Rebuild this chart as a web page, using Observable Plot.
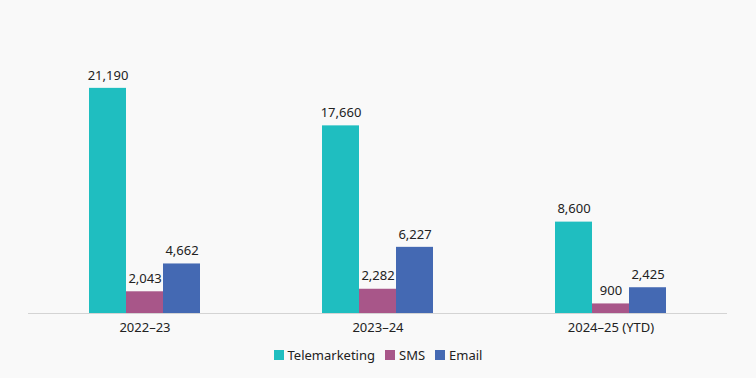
<!DOCTYPE html>
<html>
<head>
<meta charset="utf-8">
<script src="https://cdn.jsdelivr.net/npm/d3@7"></script>
<script src="https://cdn.jsdelivr.net/npm/@observablehq/plot@0.6"></script>
<style>
  html, body { margin: 0; padding: 0; background: #f9f9f9; }
  body { width: 756px; height: 378px; font-family: "Noto Sans", sans-serif; }
  #legend { display: flex; justify-content: center; gap: 10px; font-size: 13px; color: #222; margin-top: 6px; }
  #legend span.item { display: flex; align-items: center; gap: 4px; }
  #legend span.sw { width: 10px; height: 10px; display: inline-block; }
</style>
</head>
<body>
<div id="chart"></div>
<div id="legend"></div>
<script>
const periods = ["2022–23", "2023–24", "2024–25 (YTD)"];
const channels = ["Telemarketing", "SMS", "Email"];
const telemarketing = [21190, 17660, 8600];
const sms = [2043, 2282, 900];
const email = [4662, 6227, 2425];
const colors = ["#1fbec0", "#a85689", "#4469b3"];

const seriesValues = [telemarketing, sms, email];
const data = [];
periods.forEach((p, i) => {
  channels.forEach((c, j) => data.push({period: p, channel: c, value: seriesValues[j][i]}));
});

const plot = Plot.plot({
  width: 756,
  height: 340,
  marginLeft: 28,
  marginRight: 29,
  marginTop: 58,
  marginBottom: 27,
  style: {background: "#f9f9f9", fontFamily: "Noto Sans, sans-serif", fontSize: "13px", color: "#222"},
  fx: {domain: periods, padding: 0, label: null, axis: null},
  x: {domain: channels, paddingInner: 0, paddingOuter: 1.62, axis: null},
  y: {domain: [0, 24000], axis: null},
  color: {domain: channels, range: colors},
  marks: [
    Plot.barY(data, {fx: "period", x: "channel", y: "value", fill: "channel"}),
    Plot.text(data, {fx: "period", x: "channel", y: "value", text: d => d3.format(",")(d.value), dy: -13, fontSize: 13, fill: "#222"}),
    Plot.ruleY([0], {stroke: "#d4d4d4", strokeWidth: 1}),
    Plot.axisFx({anchor: "bottom", tickSize: 0, tickPadding: 9, fontSize: 13, label: null, fill: "#222"})
  ]
});
document.getElementById("chart").appendChild(plot);

const legend = document.getElementById("legend");
channels.forEach((c, i) => {
  const item = document.createElement("span");
  item.className = "item";
  const sw = document.createElement("span");
  sw.className = "sw";
  sw.style.background = colors[i];
  item.appendChild(sw);
  item.appendChild(document.createTextNode(c));
  legend.appendChild(item);
});
</script>
</body>
</html>
